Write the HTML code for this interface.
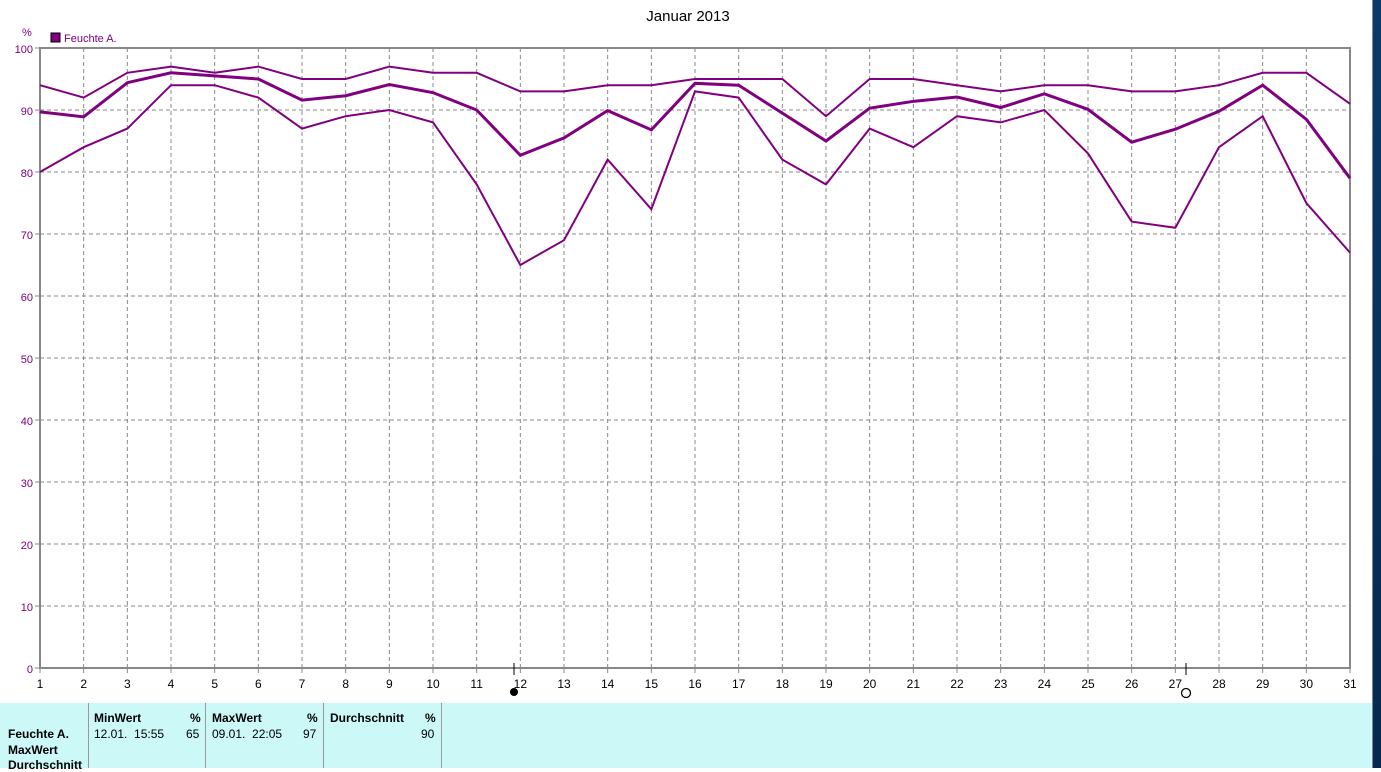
<!DOCTYPE html>
<html><head><meta charset="utf-8"><style>
body{margin:0;width:1381px;height:768px;overflow:hidden;background:#fff;font-family:"Liberation Sans",sans-serif;position:relative}
#side{position:absolute;left:1373px;top:0;width:8px;height:768px;background:linear-gradient(#0a3a6a,#06284e)}
#sep{position:absolute;left:1372px;top:0;width:1px;height:768px;background:#7a8a9a}
#tbl{position:absolute;left:0;top:703px;width:1372px;height:65px;background:#ccf8f8;font-size:12px}
.v{position:absolute;top:0;width:1px;height:65px;background:#999}
.t{position:absolute;white-space:nowrap}
.b{font-weight:bold}
</style></head><body>
<svg width="1372" height="703" style="position:absolute;left:0;top:0" id="s" font-family="Liberation Sans, sans-serif"></svg>
<div id="sep"></div><div id="side"></div>
<div id="tbl">
<div class="v" style="left:88px"></div><div class="v" style="left:205px"></div><div class="v" style="left:323px"></div><div class="v" style="left:441px"></div>
<div class="t b" style="left:94px;top:8px">MinWert</div><div class="t b" style="left:190px;top:8px">%</div>
<div class="t" style="left:94px;top:24px">12.01.&nbsp; 15:55</div><div class="t" style="left:186px;top:24px">65</div>
<div class="t b" style="left:212px;top:8px">MaxWert</div><div class="t b" style="left:307px;top:8px">%</div>
<div class="t" style="left:212px;top:24px">09.01.&nbsp; 22:05</div><div class="t" style="left:303px;top:24px">97</div>
<div class="t b" style="left:330px;top:8px">Durchschnitt</div><div class="t b" style="left:425px;top:8px">%</div>
<div class="t" style="left:421px;top:24px">90</div>
<div class="t b" style="left:8px;top:24px">Feuchte A.</div>
<div class="t b" style="left:8px;top:40px">MaxWert</div>
<div class="t b" style="left:8px;top:55px">Durchschnitt</div>
</div>
<script>
var mx=[94,92,96,97,96,97,95,95,97,96,96,93,93,94,94,95,95,95,89,95,95,94,93,94,94,93,93,94,96,96,91];
var av=[89.7,88.9,94.4,96,95.5,95,91.6,92.3,94.1,92.8,90,82.7,85.5,89.9,86.8,94.3,94,89.5,85,90.3,91.4,92.1,90.4,92.6,90.1,84.8,86.9,89.8,94,88.5,79];
var mn=[80,84,87,94,94,92,87,89,90,88,78,65,69,82,74,93,92,82,78,87,84,89,88,90,83,72,71,84,89,75,67];
var X=function(i){return 40+i*1310/30},Y=function(v){return 668-v*6.2};
var h='<text x="688" y="21" font-size="15" text-anchor="middle" fill="#000">Januar 2013</text>';
h+='<text x="22" y="36" font-size="11" fill="#800080">%</text><rect x="51" y="33" width="9" height="9" fill="#800080" stroke="#000"/><text x="64" y="42" font-size="11" fill="#800080">Feuchte A.</text>';
for(var i=1;i<30;i++)h+='<line x1="'+X(i)+'" y1="48" x2="'+X(i)+'" y2="668" stroke="#888" stroke-dasharray="4,3"/>';
for(var v=10;v<100;v+=10)h+='<line x1="40" y1="'+Y(v)+'" x2="1350" y2="'+Y(v)+'" stroke="#888" stroke-dasharray="4,3"/>';
for(var v=0;v<=100;v+=10){h+='<text x="33" y="'+(Y(v)+5)+'" font-size="11" text-anchor="end" fill="#800080">'+v+'</text><line x1="35" y1="'+Y(v)+'" x2="40" y2="'+Y(v)+'" stroke="#888"/>';}
for(var i=0;i<31;i++)h+='<line x1="'+X(i)+'" y1="668" x2="'+X(i)+'" y2="673" stroke="#888"/><text x="'+X(i)+'" y="688" font-size="12" text-anchor="middle">'+(i+1)+'</text>';
h+='<rect x="40" y="48" width="1310" height="620" fill="none" stroke="#888" stroke-width="2"/>';
function pl(a,w){return '<polyline fill="none" stroke="#800080" stroke-width="'+w+'" points="'+a.map(function(v,i){return X(i)+','+Y(v)}).join(' ')+'"/>'}
h+=pl(mx,2)+pl(av,3)+pl(mn,2);
h+='<line x1="514" y1="663" x2="514" y2="675" stroke="#000"/><circle cx="514" cy="692" r="4" fill="#000"/>';
h+='<line x1="1186" y1="663" x2="1186" y2="675" stroke="#000"/><circle cx="1186" cy="693" r="4.5" fill="none" stroke="#000" stroke-width="1.3"/>';
document.getElementById('s').innerHTML=h;
</script>
</body></html>
